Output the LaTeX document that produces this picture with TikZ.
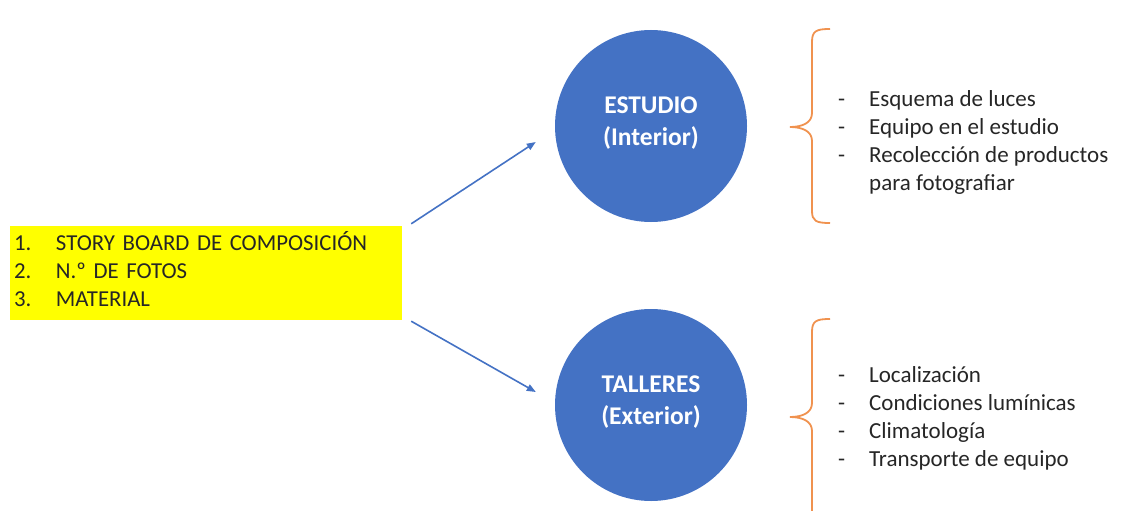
\documentclass[tikz,border=0pt]{standalone}
\usepackage{fontspec}
\setmainfont{Carlito}
\usetikzlibrary{positioning,calc,arrows.meta}

\definecolor{ofblue}{HTML}{4472C4}
\definecolor{ofbrace}{HTML}{F0924F}
\definecolor{listtext}{HTML}{262626}
\definecolor{hilite}{HTML}{FFFF00}

\tikzset{
  zone/.style = {circle, fill=ofblue, text=white, minimum size=192pt, inner sep=0pt,
                 align=center, font=\fontsize{25.5}{32}\selectfont\bfseries},
  reqbox/.style = {fill=hilite, minimum width=392pt, minimum height=94pt, inner sep=0pt,
                   text width=384pt, align=left, text=listtext,
                   font=\fontsize{22.8}{28}\selectfont},
  items/.style = {anchor=west, inner sep=0pt, text=listtext,
                  font=\fontsize{23}{28}\selectfont},
  flow/.style = {ofblue, line width=1.6pt, -{Triangle[length=9pt,width=7pt]}},
  curly/.style = {ofbrace, line width=1.8pt}
}

\begin{document}
\begin{tikzpicture}[x=1pt, y=-1pt]
  \useasboundingbox (0,0) rectangle (1121,511);

  % left: what to prepare
  \node[reqbox] (req) at (206,273) {%
    \begin{tabular}{@{}p{42pt}@{}l@{}}
      1. & STORY BOARD DE COMPOSICIÓN\\
      2. & N.º DE FOTOS\\
      3. & MATERIAL
    \end{tabular}};

  % the two places
  \node[zone] (estudio) at (651,126) {};
  \node[zone] (talleres) at (651,405) {};
  \node[zone, fill=none, minimum size=0pt] (estudio-txt) at ($(estudio)+(0,-3)$) {ESTUDIO\\(Interior)};
  \node[zone, fill=none, minimum size=0pt] (talleres-txt) at ($(talleres)+(0,-3)$) {TALLERES\\(Exterior)};

  \draw[flow] ($(req.north east)+(9,-2)$) -- ($(estudio.west)+(-19,16)$);
  \draw[flow] ($(req.south east)+(9,1)$) -- ($(talleres.west)+(-19,-13)$);

  % braces
  \draw[curly] (830,29) .. controls (816,29) and (812,31) .. (812,42)
    -- (812,113) .. controls (812,123) and (802,127) .. (790,127)
    .. controls (802,127) and (812,131) .. (812,141)
    -- (812,211) .. controls (812,221) and (816,223) .. (830,223);
  \draw[curly] (830,319) .. controls (816,319) and (812,321) .. (812,332)
    -- (812,403) .. controls (812,413) and (802,417) .. (790,417)
    .. controls (802,417) and (812,421) .. (812,431)
    -- (812,511);

  % details
  \node[items] (estudio-list) at (838,143) {%
    \begin{tabular}{@{}p{31pt}@{}l@{}}
      - & Esquema de luces\\
      - & Equipo en el estudio\\
      - & Recolección de productos\\
        & para fotografiar
    \end{tabular}};
  \node[items] (talleres-list) at (838,419) {%
    \begin{tabular}{@{}p{31pt}@{}l@{}}
      - & Localización\\
      - & Condiciones lumínicas\\
      - & Climatología\\
      - & Transporte de equipo
    \end{tabular}};
\end{tikzpicture}
\end{document}
